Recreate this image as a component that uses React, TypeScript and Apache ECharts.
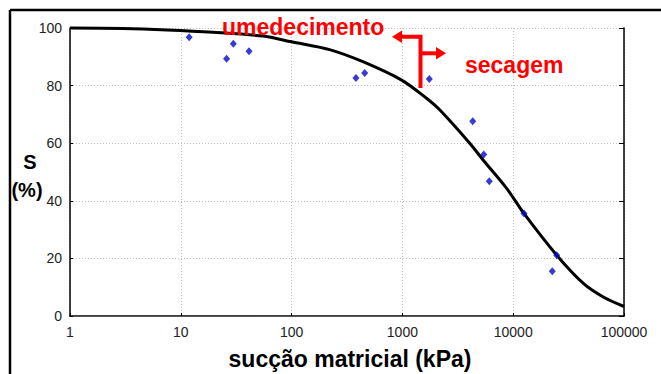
import React, { useEffect, useRef } from "react";
import * as echarts from "echarts";

const xTicks = [1, 10, 100, 1000, 10000, 100000];
const yTicks = [0, 20, 40, 60, 80, 100];

const curveSuction = [1, 3, 7.5, 19.5, 55, 100, 220, 440, 985, 1650, 2180, 4070, 5370, 8730, 12500, 24700, 43000, 65000, 100000];
const curveS = [100, 99.8, 99.3, 98.5, 97.2, 95.2, 92.5, 88.3, 81.9, 75.6, 71.5, 59.9, 54.1, 44.3, 35.6, 21.1, 11.3, 6.6, 3.3];

const pointSuction = [11.9, 25.9, 29.8, 41.3, 381, 457, 1750, 4310, 5420, 6085, 12510, 24700, 22540];
const pointS = [96.8, 89.3, 94.5, 91.9, 82.6, 84.4, 82.3, 67.6, 56.1, 46.8, 35.6, 21.1, 15.5];

const labelWetting = "umedecimento";
const labelDrying = "secagem";
const yTitle = "S";
const yUnit = "(%)";
const xTitle = "sucção matricial (kPa)";

export default function App() {
  const ref = useRef<HTMLDivElement>(null);
  useEffect(() => {
    if (!ref.current) return;
    const chart = echarts.init(ref.current, null, { renderer: "svg" });
    const red = "#ff0000";
    chart.setOption({
      animation: false,
      backgroundColor: "#ffffff",
      grid: { left: 70, top: 28, right: 37, bottom: 58, containLabel: false },
      xAxis: [
        {
          type: "log",
          logBase: 10,
          min: xTicks[0],
          max: xTicks[xTicks.length - 1],
          axisLine: { show: true, lineStyle: { color: "#000", width: 1.5 } },
          axisTick: { show: true, inside: true, length: 3, lineStyle: { color: "#000" } },
          axisLabel: {
            color: "#222",
            fontFamily: "Arial, Liberation Sans, sans-serif",
            fontSize: 14,
            margin: 9,
            formatter: (v: number) => String(Math.round(v)),
          },
          splitLine: { show: true, lineStyle: { color: "#bdbdbd", type: [1, 2], width: 1 } },
          minorTick: { show: false },
        },
        {
          type: "log",
          logBase: 10,
          position: "top",
          min: xTicks[0],
          max: xTicks[xTicks.length - 1],
          axisLine: { show: true, lineStyle: { color: "#555", width: 1 } },
          axisTick: { show: false },
          axisLabel: { show: false },
          splitLine: { show: false },
        },
      ],
      yAxis: [
        {
          type: "value",
          min: yTicks[0],
          max: yTicks[yTicks.length - 1],
          interval: 20,
          axisLine: { show: true, lineStyle: { color: "#000", width: 1.5 } },
          axisTick: { show: true, inside: true, length: 3, lineStyle: { color: "#000" } },
          axisLabel: {
            color: "#222",
            fontFamily: "Arial, Liberation Sans, sans-serif",
            fontSize: 14,
            margin: 8,
          },
          splitLine: { show: true, lineStyle: { color: "#bdbdbd", type: [1, 2], width: 1 } },
        },
        {
          type: "value",
          position: "right",
          min: yTicks[0],
          max: yTicks[yTicks.length - 1],
          interval: 20,
          axisLine: { show: true, lineStyle: { color: "#000", width: 1.5 } },
          axisTick: { show: true, inside: true, length: 5, lineStyle: { color: "#000" } },
          axisLabel: { show: false },
          splitLine: { show: false },
        },
      ],
      series: [
        {
          type: "line",
          data: curveSuction.map((x, i) => [x, curveS[i]]),
          showSymbol: false,
          smooth: 0.3,
          clip: false,
          lineStyle: { color: "#000", width: 3 },
          z: 3,
        },
        {
          type: "scatter",
          data: pointSuction.map((x, i) => [x, pointS[i]]),
          symbol: "diamond",
          symbolSize: [7, 8],
          itemStyle: { color: "#0808c8" },
          z: 4,
        },
      ],
      graphic: [
        { type: "line", shape: { x1: 10, y1: 10, x2: 661, y2: 10 }, style: { stroke: "#000", lineWidth: 2.5 } },
        { type: "line", shape: { x1: 10, y1: 10, x2: 10, y2: 374 }, style: { stroke: "#000", lineWidth: 2.5 } },
        {
          type: "text",
          z: 10,
          style: { x: 222, y: 27, text: labelWetting, fill: red, font: "bold 23px Arial, Liberation Sans, sans-serif", textVerticalAlign: "middle" },
        },
        {
          type: "text",
          z: 10,
          style: { x: 465, y: 65, text: labelDrying, fill: red, font: "bold 23px Arial, Liberation Sans, sans-serif", textVerticalAlign: "middle" },
        },
        { type: "polyline", z: 10, shape: { points: [[420.5, 88], [420.5, 36.7], [400, 36.7]] }, style: { stroke: red, lineWidth: 4, fill: null } },
        { type: "line", z: 10, shape: { x1: 420.5, y1: 53.3, x2: 438, y2: 53.3 }, style: { stroke: red, lineWidth: 4 } },
        { type: "polygon", z: 10, shape: { points: [[392, 36.7], [402, 30.5], [402, 43]] }, style: { fill: red } },
        { type: "polygon", z: 10, shape: { points: [[446, 53.3], [436, 47], [436, 59.5]] }, style: { fill: red } },
        {
          type: "text",
          style: { x: 30, y: 162, text: yTitle, fill: "#000", font: "bold 20px Arial, Liberation Sans, sans-serif", textAlign: "center", textVerticalAlign: "middle" },
        },
        {
          type: "text",
          style: { x: 27, y: 190, text: yUnit, fill: "#000", font: "bold 20px Arial, Liberation Sans, sans-serif", textAlign: "center", textVerticalAlign: "middle" },
        },
        {
          type: "text",
          style: { x: 350, y: 359, text: xTitle, fill: "#000", font: "bold 23px Arial, Liberation Sans, sans-serif", textAlign: "center", textVerticalAlign: "middle" },
        },
      ],
    });
    return () => chart.dispose();
  }, []);
  return <div ref={ref} style={{ position: "fixed", left: 0, top: 0, width: 661, height: 374 }} />;
}
